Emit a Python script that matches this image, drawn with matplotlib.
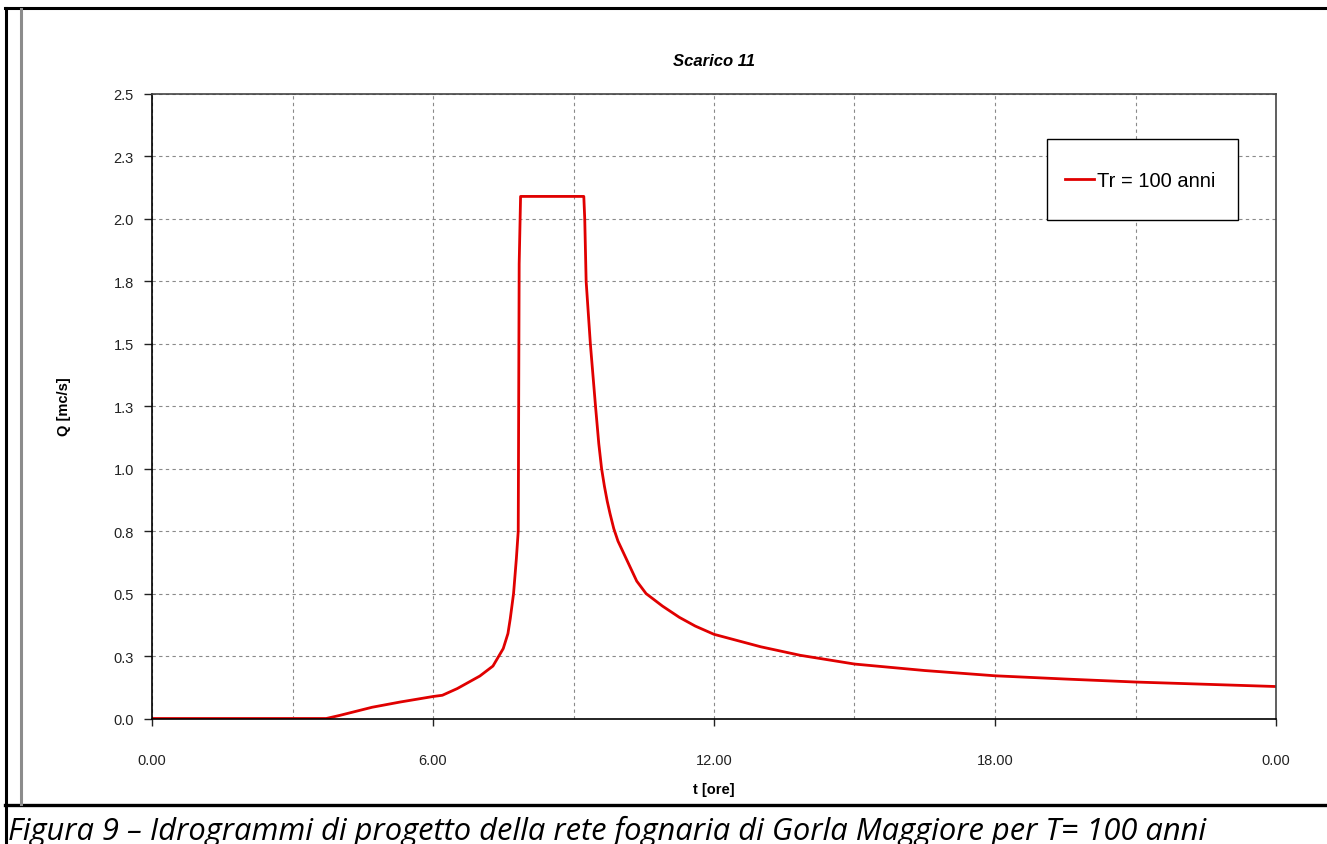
import matplotlib
matplotlib.use('Agg')
import matplotlib.pyplot as plt
from matplotlib.lines import Line2D
from matplotlib.patches import Rectangle
from matplotlib.ticker import FixedLocator

# hydrograph (hours, m3/s)
t_ore = [0, 3.72, 4.0, 4.7, 5.3, 6.0, 6.2, 6.52, 7.0, 7.28, 7.5, 7.6, 7.65, 7.72,
         7.78, 7.82, 7.84, 7.87, 9.22, 9.24, 9.27, 9.36, 9.47, 9.54, 9.6, 9.66,
         9.72, 9.78, 9.86, 9.95, 10.05, 10.2, 10.35, 10.55, 10.9, 11.26, 11.6,
         12.0, 13.0, 13.84, 15.0, 16.5, 18.0, 19.5, 21.0, 22.5, 24.0]
q_tr100 = [0, 0, 0.012, 0.045, 0.066, 0.088, 0.093, 0.12, 0.17, 0.21, 0.28, 0.34,
           0.40, 0.50, 0.64, 0.75, 1.82, 2.09, 2.09, 2.0, 1.75, 1.5, 1.25, 1.1,
           1.0, 0.93, 0.87, 0.82, 0.76, 0.71, 0.67, 0.61, 0.55, 0.50, 0.45, 0.405,
           0.37, 0.337, 0.287, 0.253, 0.218, 0.192, 0.171, 0.158, 0.146, 0.137, 0.128]

y_ticks = [0, 0.25, 0.5, 0.75, 1.0, 1.25, 1.5, 1.75, 2.0, 2.25, 2.5]
y_labels = ['0.0', '0.3', '0.5', '0.8', '1.0', '1.3', '1.5', '1.8', '2.0', '2.3', '2.5']
x_ticks = [0, 6, 12, 18, 24]
x_labels = ['0.00', '6.00', '12.00', '18.00', '0.00']
x_minor = [3, 9, 15, 21]

titolo = 'Scarico 11'
serie = 'Tr = 100 anni'
didascalia = 'Figura 9 \u2013 Idrogrammi di progetto della rete fognaria di Gorla Maggiore per T= 100 anni'

W, H = 1327, 845
plt.rcParams['font.family'] = ['Liberation Sans', 'DejaVu Sans']
fig = plt.figure(figsize=(W / 100, H / 100), dpi=100)

def fx(px):
    return px / W

def fy(py):
    return 1 - py / H

ax = fig.add_axes([fx(152), fy(719.5), fx(1276) - fx(152), fy(95) - fy(719.5)])
ax.plot(t_ore, q_tr100, color='#e00000', lw=2.0, label=serie)

ax.set_xlim(0, 24)
ax.set_ylim(0, 2.5)
ax.xaxis.set_major_locator(FixedLocator(x_ticks))
ax.xaxis.set_minor_locator(FixedLocator(x_minor))
ax.set_xticklabels(x_labels)
ax.set_yticks(y_ticks)
ax.set_yticklabels(y_labels)
ax.tick_params(axis='x', which='major', length=5, width=1, pad=20, labelsize=10.5, colors='#222222')
ax.tick_params(axis='x', which='minor', length=0)
ax.tick_params(axis='y', length=6, width=1, pad=7, labelsize=10.5, colors='#222222')

grid_kw = dict(color='#8a8a8a', linestyle=(0, (3, 3)), linewidth=0.8)
ax.grid(True, which='both', axis='x', **grid_kw)
ax.grid(True, which='major', axis='y', **grid_kw)
ax.set_axisbelow(True)

for s in ['left', 'bottom']:
    ax.spines[s].set_color('black')
    ax.spines[s].set_linewidth(1.2)
for s in ['top', 'right']:
    ax.spines[s].set_color('#444444')
    ax.spines[s].set_linewidth(1.2)

# legend box drawn by hand, Excel style (wide padding, tight handle)
ax.add_patch(Rectangle((0.796, 0.799), 0.170, 0.129, transform=ax.transAxes,
                       facecolor='white', edgecolor='black', lw=1.0, zorder=5))
leg = ax.legend(loc='center left', bbox_to_anchor=(0.812, 0.862), fontsize=14.5,
                frameon=False, borderpad=0, borderaxespad=0, handlelength=1.45,
                handletextpad=0.15)
leg.set_zorder(6)

fig.text(fx(714), fy(62), titolo, ha='center', va='center', fontsize=12,
         fontweight='bold', fontstyle='italic')
fig.text(fx(64), fy(407), 'Q [mc/s]', ha='center', va='center', rotation=90,
         fontsize=10.5, fontweight='bold')
fig.text(fx(714), fy(790), 't [ore]', ha='center', va='center', fontsize=10.5,
         fontweight='bold')

# page frame around the chart and caption
def riga(x0, y0, x1, y1, color='black', lw=2.0):
    fig.add_artist(Line2D([fx(x0), fx(x1)], [fy(y0), fy(y1)], color=color, lw=lw,
                          transform=fig.transFigure))

riga(6, 9, 6, 845, lw=2.2)
riga(5, 9, 1327, 9, lw=2.2)
riga(5, 806, 1327, 806, lw=2.4)
riga(21, 10, 21, 805, color='#8c8c8c', lw=2.2)

cap = fig.text(fx(8), fy(840), didascalia, ha='left', va='baseline',
               fontsize=20, fontstyle='italic', family=['Open Sans', 'DejaVu Sans'])
r = fig.canvas.get_renderer()
w = cap.get_window_extent(r).width
cap.set_fontsize(20 * 1198 / w)

fig.savefig('out.png', dpi=100)
